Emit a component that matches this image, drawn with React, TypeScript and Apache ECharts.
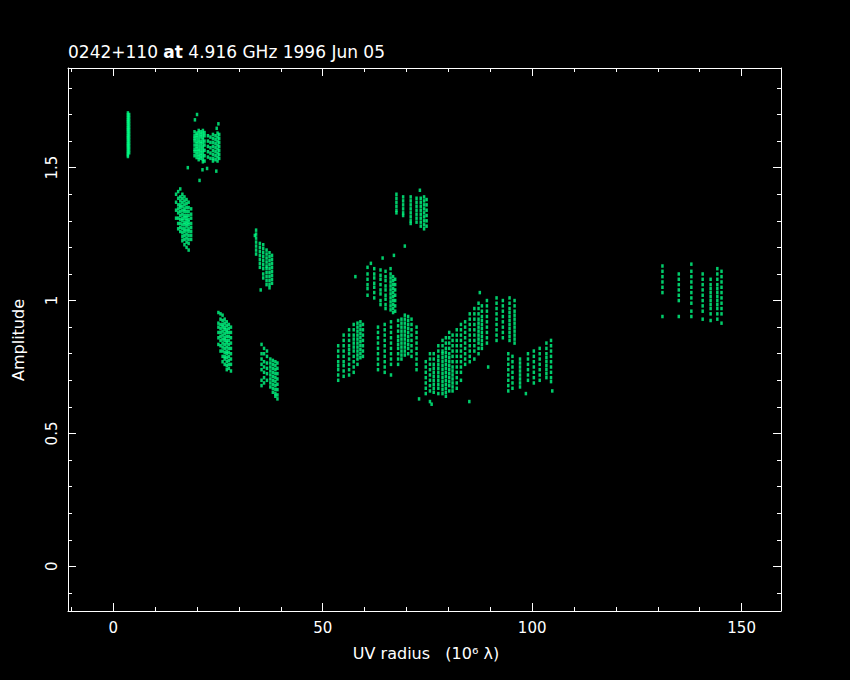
import React, { useEffect, useRef } from "react";
import * as echarts from "echarts";

// Each track: [uvRadius, amp1, amp2, ...]
const cluster1: number[][] = [
  [3.5, 1.706, 1.698, 1.69, 1.682, 1.675, 1.668, 1.66, 1.652, 1.645, 1.638, 1.63, 1.622, 1.615, 1.608, 1.6, 1.592, 1.585, 1.578, 1.57, 1.562, 1.555, 1.548, 1.542],
  [3.8, 1.7, 1.688, 1.676, 1.664, 1.652, 1.64, 1.628, 1.616, 1.604, 1.592, 1.58, 1.568, 1.556],
];
const cluster2: number[][] = [
  [19.4, 1.635, 1.62, 1.61, 1.6, 1.585, 1.57, 1.56, 1.545],
  [19.9, 1.63, 1.622, 1.612, 1.6, 1.59, 1.58, 1.57, 1.56, 1.55, 1.538],
  [20.4, 1.64, 1.63, 1.618, 1.605, 1.595, 1.582, 1.57, 1.562, 1.55, 1.54, 1.53],
  [20.9, 1.635, 1.625, 1.615, 1.6, 1.59, 1.578, 1.566, 1.555, 1.545, 1.535],
  [21.4, 1.64, 1.628, 1.616, 1.605, 1.593, 1.58, 1.568, 1.556, 1.544, 1.532, 1.522],
  [21.8, 1.632, 1.62, 1.6, 1.585, 1.565, 1.545, 1.525],
  [22.6, 1.62, 1.6, 1.58, 1.56, 1.54],
  [23.2, 1.615, 1.595, 1.575, 1.555, 1.535],
  [23.8, 1.625, 1.61, 1.595, 1.58, 1.565, 1.55, 1.535, 1.525],
  [24.4, 1.62, 1.605, 1.59, 1.575, 1.56, 1.545, 1.53],
  [24.9, 1.63, 1.615, 1.6, 1.585, 1.57, 1.555, 1.54, 1.525],
  [25.3, 1.625, 1.61, 1.595, 1.58, 1.565, 1.55, 1.535],
  [20.0, 1.7], [19.5, 1.68], [25.1, 1.665], [24.7, 1.648], [17.8, 1.5],
  [21.3, 1.492], [22.4, 1.497], [24.6, 1.487], [20.6, 1.452],
];
const cluster3: number[][] = [
  [15.0, 1.4, 1.37, 1.34, 1.31],
  [15.5, 1.41, 1.385, 1.36, 1.345, 1.33, 1.31, 1.29, 1.27],
  [16.0, 1.42, 1.39, 1.375, 1.36, 1.35, 1.335, 1.32, 1.305, 1.29, 1.275, 1.26],
  [16.5, 1.4, 1.385, 1.37, 1.355, 1.34, 1.325, 1.31, 1.3, 1.285, 1.27, 1.255, 1.24, 1.225],
  [17.0, 1.39, 1.375, 1.36, 1.345, 1.335, 1.32, 1.31, 1.295, 1.285, 1.27, 1.26, 1.245, 1.23, 1.21],
  [17.5, 1.38, 1.365, 1.35, 1.335, 1.32, 1.31, 1.3, 1.29, 1.28, 1.265, 1.25, 1.235, 1.22, 1.2],
  [18.0, 1.37, 1.35, 1.335, 1.32, 1.305, 1.295, 1.285, 1.27, 1.26, 1.245, 1.23, 1.215, 1.19],
  [18.6, 1.345, 1.325, 1.31, 1.29, 1.275, 1.26, 1.245, 1.23],
];
const cluster4: number[][] = [
  [34.1, 1.265, 1.25, 1.235, 1.22, 1.205, 1.19, 1.175],
  [35.0, 1.215, 1.2, 1.185, 1.17, 1.155, 1.14, 1.125],
  [35.8, 1.21, 1.195, 1.18, 1.165, 1.15, 1.135, 1.12, 1.1, 1.085],
  [36.6, 1.19, 1.175, 1.16, 1.145, 1.13, 1.12, 1.105, 1.09, 1.075, 1.06],
  [37.3, 1.18, 1.165, 1.15, 1.135, 1.12, 1.105, 1.09, 1.075, 1.06, 1.048],
  [37.9, 1.17, 1.155, 1.14, 1.125, 1.11, 1.095, 1.08, 1.065],
  [35.2, 1.04], [33.8, 1.245],
];
const cluster5: number[][] = [
  [25.1, 0.955, 0.915, 0.9, 0.88, 0.86, 0.835],
  [25.6, 0.95, 0.93, 0.91, 0.895, 0.88, 0.865, 0.85, 0.83, 0.81],
  [26.1, 0.945, 0.925, 0.91, 0.9, 0.885, 0.87, 0.855, 0.84, 0.825, 0.81, 0.79, 0.77],
  [26.6, 0.93, 0.915, 0.9, 0.89, 0.875, 0.86, 0.85, 0.835, 0.82, 0.805, 0.79, 0.78, 0.76],
  [27.1, 0.92, 0.905, 0.89, 0.88, 0.865, 0.85, 0.84, 0.825, 0.81, 0.8, 0.785, 0.77, 0.755, 0.74],
  [27.6, 0.91, 0.895, 0.88, 0.865, 0.85, 0.835, 0.82, 0.805, 0.79, 0.775, 0.76, 0.745],
  [28.1, 0.9, 0.88, 0.86, 0.84, 0.82, 0.8, 0.78, 0.76, 0.735],
];
const cluster6: number[][] = [
  [35.4, 0.835, 0.8, 0.78, 0.76, 0.74, 0.7, 0.68],
  [36.0, 0.82, 0.8, 0.77, 0.75, 0.73, 0.71, 0.69],
  [36.7, 0.81, 0.79, 0.765, 0.745, 0.725, 0.7],
  [37.5, 0.78, 0.765, 0.75, 0.735, 0.72, 0.705, 0.69, 0.675],
  [38.1, 0.775, 0.76, 0.745, 0.73, 0.715, 0.7, 0.685, 0.67, 0.655],
  [38.7, 0.77, 0.755, 0.74, 0.725, 0.71, 0.695, 0.68, 0.665, 0.65, 0.64],
  [39.2, 0.765, 0.745, 0.725, 0.705, 0.685, 0.665, 0.645, 0.63],
];
const cluster7: number[][] = [
  [53.7, 0.83, 0.81, 0.79, 0.77, 0.755, 0.74, 0.72, 0.7],
  [55.0, 0.87, 0.85, 0.83, 0.81, 0.79, 0.77, 0.755, 0.735, 0.715],
  [56.3, 0.89, 0.87, 0.85, 0.83, 0.815, 0.8, 0.78, 0.76, 0.74, 0.72],
  [57.4, 0.91, 0.89, 0.87, 0.855, 0.84, 0.825, 0.81, 0.79, 0.77, 0.75, 0.73],
  [58.3, 0.915, 0.9, 0.885, 0.87, 0.855, 0.84, 0.825, 0.81, 0.795, 0.78, 0.76],
  [59.0, 0.92, 0.905, 0.89, 0.875, 0.86, 0.845, 0.83, 0.815, 0.8, 0.785],
  [59.6, 0.91, 0.89, 0.87, 0.85, 0.83, 0.81, 0.79],
  [57.8, 1.09],
];
const cluster8: number[][] = [
  [60.7, 1.125, 1.1, 1.08, 1.06, 1.045, 1.02],
  [62.3, 1.12, 1.1, 1.085, 1.065, 1.05, 1.03, 1.01],
  [63.8, 1.115, 1.095, 1.08, 1.06, 1.04, 1.025, 1.0, 0.985],
  [65.0, 1.11, 1.09, 1.075, 1.055, 1.04, 1.02, 1.005, 0.985, 0.97],
  [66.2, 1.12, 1.1, 1.085, 1.07, 1.055, 1.04, 1.025, 1.01, 0.995, 0.98, 0.965],
  [66.8, 1.09, 1.075, 1.06, 1.045, 1.03, 1.015, 1.0, 0.985, 0.97, 0.955],
  [67.3, 1.08, 1.06, 1.04, 1.02, 1.0, 0.98, 0.96],
  [67.0, 1.17], [64.3, 1.16], [61.5, 1.14],
];
const cluster9: number[][] = [
  [63.2, 0.9, 0.88, 0.86, 0.84, 0.82, 0.8, 0.78, 0.76, 0.74],
  [64.8, 0.91, 0.89, 0.87, 0.85, 0.83, 0.81, 0.79, 0.77, 0.75, 0.73],
  [66.3, 0.92, 0.9, 0.88, 0.86, 0.84, 0.82, 0.8, 0.78, 0.76, 0.72],
  [68.0, 0.925, 0.905, 0.885, 0.865, 0.85, 0.835, 0.82, 0.8, 0.78, 0.76],
  [68.8, 0.93, 0.915, 0.9, 0.885, 0.87, 0.855, 0.84, 0.825, 0.81, 0.795, 0.78],
  [69.6, 0.945, 0.93, 0.915, 0.9, 0.885, 0.87, 0.855, 0.84, 0.825, 0.81, 0.795],
  [70.4, 0.94, 0.925, 0.91, 0.895, 0.88, 0.865, 0.85, 0.835, 0.82, 0.8],
  [71.2, 0.93, 0.91, 0.89, 0.87, 0.85, 0.83, 0.81, 0.79],
  [72.4, 0.9, 0.88, 0.86, 0.84, 0.82, 0.8, 0.78, 0.76, 0.74],
];
const cluster10: number[][] = [
  [67.6, 1.4, 1.385, 1.37, 1.355, 1.34, 1.33],
  [69.2, 1.39, 1.375, 1.36, 1.345, 1.33, 1.32],
  [71.0, 1.39, 1.375, 1.36, 1.345, 1.33, 1.315, 1.3, 1.29],
  [72.4, 1.385, 1.37, 1.355, 1.34, 1.325, 1.31, 1.295],
  [73.4, 1.385, 1.37, 1.355, 1.34, 1.325, 1.31, 1.295, 1.28],
  [74.2, 1.39, 1.375, 1.36, 1.345, 1.33, 1.315, 1.3, 1.285, 1.27],
  [74.8, 1.38, 1.36, 1.34, 1.32, 1.3, 1.28],
  [73.2, 1.415], [69.6, 1.205],
];
const cluster11: number[][] = [
  [74.6, 0.77, 0.75, 0.73, 0.71, 0.69, 0.67, 0.65],
  [75.6, 0.8, 0.78, 0.76, 0.74, 0.72, 0.7, 0.68, 0.66, 0.62],
  [76.5, 0.8, 0.78, 0.76, 0.745, 0.73, 0.715, 0.7, 0.685, 0.67, 0.655],
  [77.6, 0.83, 0.81, 0.79, 0.775, 0.76, 0.745, 0.73, 0.715, 0.7, 0.685, 0.67, 0.65],
  [78.6, 0.85, 0.83, 0.81, 0.8, 0.785, 0.77, 0.755, 0.74, 0.725, 0.71, 0.695, 0.68, 0.665, 0.65],
  [79.4, 0.86, 0.84, 0.82, 0.805, 0.79, 0.775, 0.76, 0.745, 0.73, 0.715, 0.7, 0.685, 0.67, 0.655, 0.64],
  [80.2, 0.88, 0.86, 0.84, 0.82, 0.8, 0.785, 0.77, 0.755, 0.74, 0.725, 0.71, 0.695, 0.68, 0.66],
  [81.0, 0.87, 0.85, 0.83, 0.81, 0.79, 0.77, 0.75, 0.735, 0.72, 0.705, 0.69, 0.675, 0.66],
  [82.0, 0.89, 0.87, 0.85, 0.83, 0.81, 0.79, 0.77, 0.75, 0.73, 0.71, 0.69, 0.67],
  [83.0, 0.91, 0.89, 0.87, 0.85, 0.83, 0.81, 0.79, 0.77, 0.75, 0.73, 0.7],
  [84.0, 0.92, 0.9, 0.88, 0.86, 0.84, 0.82, 0.8, 0.78, 0.76],
  [76.0, 0.61], [85.0, 0.62], [73.0, 0.63],
];
const cluster12: number[][] = [
  [85.1, 0.95, 0.93, 0.91, 0.89, 0.87, 0.85, 0.83, 0.81, 0.79, 0.77],
  [86.2, 0.97, 0.95, 0.93, 0.91, 0.89, 0.87, 0.85, 0.83, 0.81, 0.78],
  [87.2, 0.99, 0.97, 0.95, 0.93, 0.915, 0.9, 0.885, 0.87, 0.855, 0.84, 0.82, 0.8],
  [88.0, 0.98, 0.96, 0.94, 0.925, 0.91, 0.895, 0.88, 0.865, 0.85, 0.835, 0.82],
  [89.2, 1.0, 0.98, 0.96, 0.94, 0.92, 0.9, 0.88, 0.86, 0.84],
  [91.5, 1.01, 0.99, 0.97, 0.95, 0.93, 0.91, 0.89, 0.87, 0.85],
  [93.0, 1.0, 0.98, 0.96, 0.94, 0.92, 0.9, 0.88, 0.86],
  [94.6, 1.01, 0.99, 0.97, 0.955, 0.94, 0.925, 0.91, 0.895, 0.88, 0.865, 0.85],
  [95.8, 1.0, 0.98, 0.96, 0.945, 0.93, 0.915, 0.9, 0.885, 0.87, 0.855, 0.84],
  [87.5, 1.03], [89.5, 0.75],
];
const cluster13: number[][] = [
  [94.3, 0.8, 0.78, 0.76, 0.74, 0.72, 0.7, 0.68, 0.66],
  [95.3, 0.79, 0.77, 0.75, 0.73, 0.71, 0.69, 0.67],
  [97.1, 0.78, 0.765, 0.75, 0.735, 0.72, 0.705, 0.69, 0.675],
  [99.0, 0.8, 0.78, 0.76, 0.74, 0.72, 0.7],
  [100.4, 0.81, 0.79, 0.77, 0.75, 0.73, 0.71, 0.69],
  [101.8, 0.82, 0.8, 0.78, 0.76, 0.74, 0.72, 0.7],
  [103.4, 0.84, 0.82, 0.8, 0.785, 0.77, 0.755, 0.74, 0.725, 0.71],
  [104.5, 0.85, 0.83, 0.81, 0.79, 0.77, 0.75, 0.73, 0.71, 0.695],
  [98.5, 0.65], [104.8, 0.66],
];
const cluster14: number[][] = [
  [131.1, 1.13, 1.11, 1.09, 1.07, 1.05, 1.03, 0.94],
  [135.0, 1.1, 1.08, 1.06, 1.04, 1.02, 1.0, 0.94],
  [138.0, 1.137, 1.11, 1.09, 1.07, 1.05, 1.03, 1.01, 0.99, 0.96, 0.94],
  [140.7, 1.1, 1.08, 1.06, 1.04, 1.02, 1.0, 0.98, 0.96, 0.93],
  [142.6, 1.08, 1.06, 1.045, 1.03, 1.015, 1.0, 0.985, 0.97, 0.95, 0.925],
  [144.2, 1.12, 1.1, 1.08, 1.06, 1.045, 1.03, 1.015, 1.0, 0.985, 0.97, 0.95, 0.93],
  [145.2, 1.11, 1.09, 1.07, 1.05, 1.03, 1.01, 0.99, 0.97, 0.95, 0.915],
];

const xMajorTicks = [0, 50, 100, 150];
const xMinorTicks = [-10, 10, 20, 30, 40, 60, 70, 80, 90, 110, 120, 130, 140];
const yMajorTicks = [0, 0.5, 1, 1.5];
const yMinorTicks = [-0.1, 0.1, 0.2, 0.3, 0.4, 0.6, 0.7, 0.8, 0.9, 1.1, 1.2, 1.3, 1.4, 1.6, 1.7, 1.8];

const X_MIN = -10.8;
const X_MAX = 159.4;
const Y_MIN = -0.168;
const Y_MAX = 1.875;

const allClusters = [cluster1, cluster2, cluster3, cluster4, cluster5, cluster6, cluster7, cluster8, cluster9, cluster10, cluster11, cluster12, cluster13, cluster14];

function toPoints(clusters: number[][][]): number[][] {
  const out: number[][] = [];
  clusters.forEach((c) =>
    c.forEach((track) => {
      const x = track[0];
      for (let i = 1; i < track.length; i++) out.push([x, track[i]]);
    })
  );
  return out;
}

const FONT = "DejaVu Sans";
const WHITE = "#ffffff";

export default function App() {
  const ref = useRef<HTMLDivElement>(null);
  useEffect(() => {
    if (!ref.current) return;
    const chart = echarts.init(ref.current, null, { renderer: "svg" });
    const axisBase = (pos: string, ticks: number[], len: number, showLine: boolean, showLabel: boolean, isY: boolean) => ({
      type: "value",
      position: pos,
      min: isY ? Y_MIN : X_MIN,
      max: isY ? Y_MAX : X_MAX,
      axisLine: { show: showLine, onZero: false, lineStyle: { color: WHITE, width: 1 } },
      axisTick: { show: true, inside: true, length: len, customValues: ticks, lineStyle: { color: WHITE, width: 1 } },
      axisLabel: showLabel
        ? {
            show: true,
            customValues: ticks,
            color: WHITE,
            fontSize: 15,
            fontFamily: FONT,
            margin: 9,
            rotate: isY ? 90 : 0,
            formatter: (v: number) => String(v),
          }
        : { show: false },
      splitLine: { show: false },
    });
    chart.setOption({
      animation: false,
      backgroundColor: "#000000",
      grid: { left: 68, top: 68, width: 713, height: 543, containLabel: false },
      xAxis: [
        axisBase("bottom", xMajorTicks, 8, true, true, false),
        axisBase("bottom", xMinorTicks, 4, false, false, false),
        axisBase("top", xMajorTicks, 8, true, false, false),
        axisBase("top", xMinorTicks, 4, false, false, false),
      ],
      yAxis: [
        axisBase("left", yMajorTicks, 8, true, true, true),
        axisBase("left", yMinorTicks, 4, false, false, true),
        axisBase("right", yMajorTicks, 8, true, false, true),
        axisBase("right", yMinorTicks, 4, false, false, true),
      ],
      series: [
        {
          type: "scatter",
          xAxisIndex: 0,
          yAxisIndex: 0,
          symbol: "rect",
          symbolSize: [2.5, 3.5],
          itemStyle: { color: "#00ff84" },
          data: toPoints(allClusters),
          silent: true,
        },
      ],
      graphic: [
        {
          type: "text",
          x: 68,
          y: 52,
          style: {
            text: "0242+110 {b|at} 4.916 GHz 1996 Jun 05",
            fill: WHITE,
            font: `17px "${FONT}"`,
            verticalAlign: "middle",
            align: "left",
            rich: { b: { fontWeight: "bold", fontSize: 17, fontFamily: FONT, fill: WHITE } },
          },
        },
        {
          type: "text",
          x: 426,
          y: 653,
          style: {
            text: "UV radius   (10\u2076 \u03bb)",
            fill: WHITE,
            font: `16px "${FONT}"`,
            align: "center",
            verticalAlign: "middle",
          },
        },
        {
          type: "text",
          x: 18,
          y: 340,
          rotation: Math.PI / 2,
          style: {
            text: "Amplitude",
            fill: WHITE,
            font: `16px "${FONT}"`,
            align: "center",
            verticalAlign: "middle",
          },
        },
      ],
    });
    return () => chart.dispose();
  }, []);
  return (
    <div style={{ position: "fixed", left: 0, top: 0, width: 850, height: 680, background: "#000" }}>
      <div ref={ref} style={{ width: 850, height: 680 }} />
    </div>
  );
}
